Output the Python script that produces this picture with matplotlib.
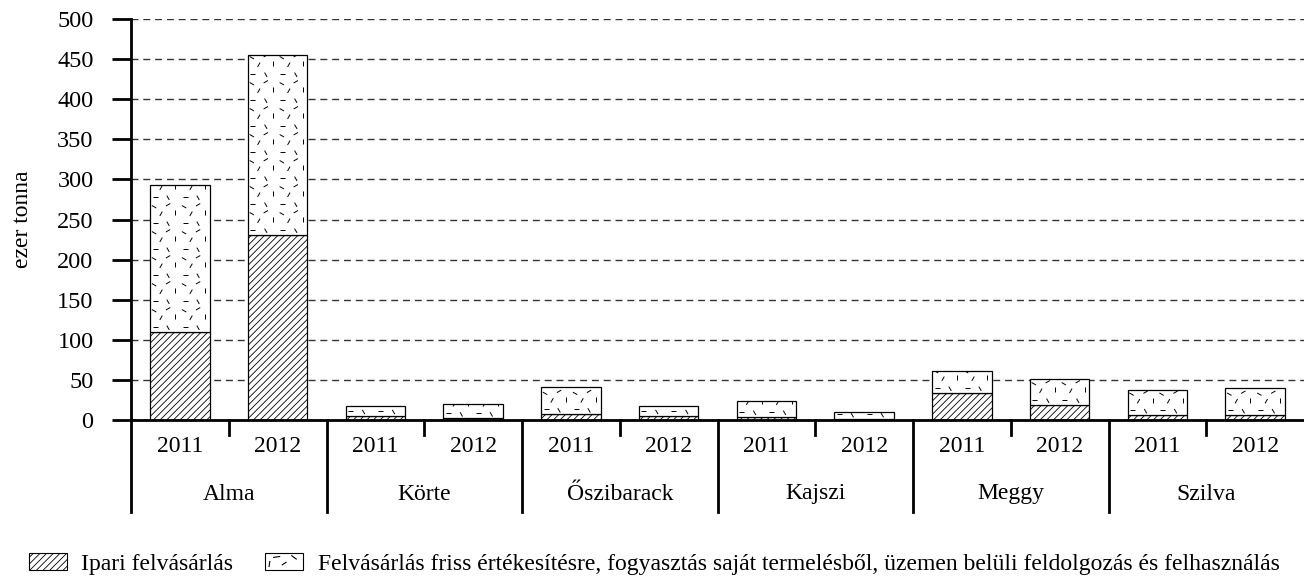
import matplotlib
matplotlib.use("Agg")
from matplotlib import pyplot as plt
from matplotlib.patches import Rectangle
from matplotlib.collections import LineCollection
from matplotlib.legend_handler import HandlerPatch
from matplotlib.lines import Line2D
import numpy as np

# adatok (ezer tonna)
fruits = ["Alma", "Körte", "Őszibarack", "Kajszi", "Meggy", "Szilva"]
years = ["2011", "2012"]
ipari = [110, 231, 5, 2, 7, 5, 4, 1, 34, 19, 6, 6]
friss = [183, 224, 13, 18, 34, 12, 20, 9, 27, 32, 31, 34]
yticks = [0, 50, 100, 150, 200, 250, 300, 350, 400, 450, 500]

label_ipari = "Ipari felvásárlás"
label_friss = ("Felvásárlás friss értékesítésre, fogyasztás saját termelésből, "
               "üzemen belüli feldolgozás és felhasználás")

plt.rcParams['font.family'] = ['Liberation Serif', 'DejaVu Serif']
plt.rcParams['hatch.linewidth'] = 0.6

# szaggatott minta (apro vonalkak) egy csempe: dx, dy, szog
TILE_W, TILE_H = 30, 26
tile = [(5, 5, 0), (18, 4, 120), (11, 14, 60), (25, 15, 90),
        (4, 21, 150), (18, 23, 30)]


def dash_segments(x0, y0, x1, y1, seglen=5):
    segs = []
    for ty in np.arange(y0 - TILE_H, y1 + TILE_H, TILE_H):
        for tx in np.arange(x0 - TILE_W, x1 + TILE_W, TILE_W):
            for dx, dy, ang in tile:
                cx, cy = tx + dx, ty + dy
                a = np.radians(ang)
                hx, hy = np.cos(a) * seglen / 2, np.sin(a) * seglen / 2
                segs.append([(cx - hx, cy - hy), (cx + hx, cy + hy)])
    return segs


class HandlerDash(HandlerPatch):
    def create_artists(self, legend, orig_handle, xdescent, ydescent,
                       width, height, fontsize, trans):
        arts = super().create_artists(legend, orig_handle, xdescent, ydescent,
                                      width, height, fontsize, trans)
        pts = [(0.22, 0.75, 0.38, 0.8), (0.45, 0.3, 0.55, 0.45),
               (0.7, 0.85, 0.82, 0.65), (0.1, 0.2, 0.12, 0.5)]
        for a, b, c, d in pts:
            ln = Line2D([-xdescent + a * width, -xdescent + c * width],
                        [-ydescent + b * height, -ydescent + d * height],
                        color="black", lw=0.8)
            ln.set_transform(trans)
            arts.append(ln)
        return arts


def main():
    W, H = 1304, 577
    fig = plt.figure(figsize=(W / 100, H / 100), dpi=100)
    ax = fig.add_axes([131 / W, (H - 420) / H, (W - 131) / W, 401 / H])

    n = len(ipari)
    xs = np.arange(n) + 0.5
    bw = 0.61
    ax.bar(xs, ipari, bw, color="white", edgecolor="black", lw=0.9,
           hatch="/////", zorder=3)
    top_bars = ax.bar(xs, friss, bw, bottom=ipari, color="white",
                      edgecolor="black", lw=0.9, zorder=3)

    ax.set_xlim(0, n)
    ax.set_ylim(0, 500)
    ax.set_yticks(yticks)
    ax.tick_params(axis="y", length=14, width=2, direction="out",
                   labelsize=17.5, pad=13)
    ax.set_xticks([])
    ax.yaxis.grid(True, ls=(0, (5, 3.5)), color="#333333", lw=1.0, zorder=0)
    ax.set_axisbelow(True)
    for s in ["top", "right"]:
        ax.spines[s].set_visible(False)
    ax.spines["left"].set_linewidth(2)
    ax.spines["bottom"].set_linewidth(2)
    ax.spines["bottom"].set_zorder(5)
    ax.set_ylabel("ezer tonna", fontsize=17, labelpad=17)

    # mintazat a felso szegmensekben
    for b in top_bars:
        (x0, y0), (x1, y1) = ax.transData.transform(
            [(b.get_x(), b.get_y()), (b.get_x() + b.get_width(),
                                      b.get_y() + b.get_height())])
        lc = LineCollection(dash_segments(x0, y0, x1, y1), colors="black",
                            linewidths=0.7, transform=None, zorder=4)
        ax.add_collection(lc)
        lc.set_clip_path(b)

    # kategoria tengely
    tr = ax.get_xaxis_transform()
    px = 1 / 401  # egy pixel tengely-koordinataban
    for i in range(n):
        ax.text(xs[i], -27 * px, years[i % 2], transform=tr, ha="center",
                va="center", fontsize=17)
    for g, name in enumerate(fruits):
        ax.text(2 * g + 1, -74 * px, name, transform=tr, ha="center",
                va="center", fontsize=17)
        ax.plot([2 * g + 1, 2 * g + 1], [0, -15 * px], transform=tr,
                color="black", lw=2, clip_on=False)
        ax.plot([2 * g, 2 * g], [0, -92 * px], transform=tr,
                color="black", lw=2, clip_on=False)

    ipari_h = Rectangle((0, 0), 1, 1, facecolor="white", edgecolor="black",
                        lw=0.8, hatch="/////")
    friss_h = Rectangle((0, 0), 1, 1, facecolor="white", edgecolor="black",
                        lw=0.8)
    fig.legend([ipari_h, friss_h], [label_ipari, label_friss],
               loc="center left", bbox_to_anchor=(29 / W, 13 / H),
               ncol=2, frameon=False, fontsize=17, handlelength=1.6,
               handleheight=0.7, handletextpad=0.62, columnspacing=1.35,
               borderpad=0, borderaxespad=0,
               handler_map={friss_h: HandlerDash()})

    fig.savefig("out.png", dpi=100)


if __name__ == "__main__":
    main()
